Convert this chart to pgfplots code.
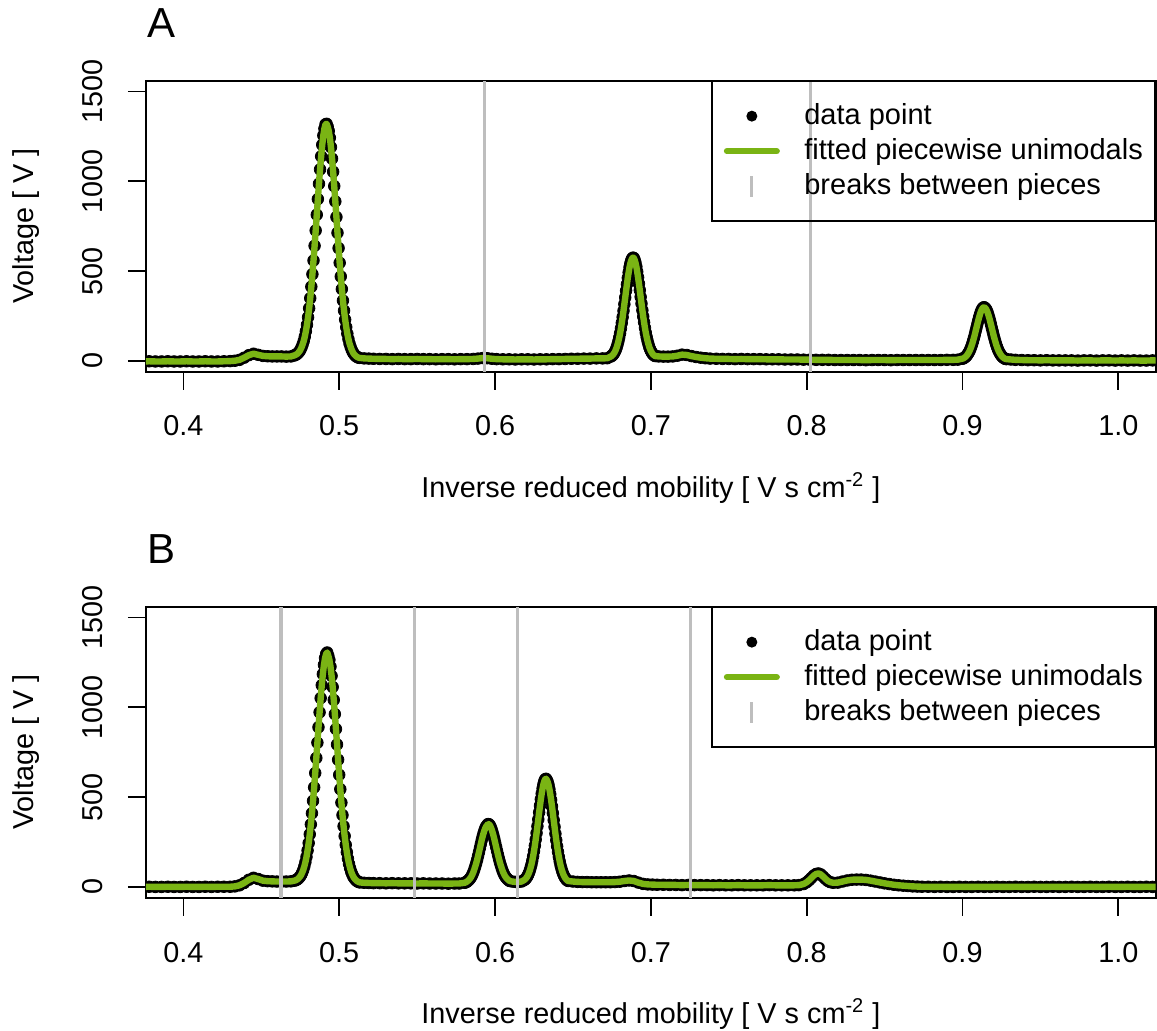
\documentclass[border=0pt]{standalone}
\usepackage{fontspec}
\setmainfont{Liberation Sans}
\usepackage{pgfplots}
\usepackage{pgfplotstable}
\pgfplotsset{compat=1.18}
\definecolor{fitgreen}{RGB}{122,180,20}
\definecolor{breakgray}{RGB}{190,190,190}

\pgfplotstableread{
x y
0.370 -3
0.374 -3
0.378 -2
0.382 -3
0.386 -3
0.390 -2
0.394 -3
0.398 -3
0.402 -2
0.406 -3
0.410 -3
0.414 -2
0.418 -3
0.422 -3
0.426 -2
0.430 -1
0.433 1
0.436 6
0.439 18
0.442 32
0.445 40
0.448 34
0.451 28
0.454 26
0.457 25
0.460 25
0.463 25
0.466 24
0.469 25
0.4709 30
0.4716 32
0.4723 35
0.4730 39
0.4737 45
0.4744 52
0.4751 62
0.4758 75
0.4765 91
0.4772 110
0.4779 135
0.4786 165
0.4793 201
0.4800 243
0.4807 293
0.4814 349
0.4821 413
0.4828 483
0.4835 559
0.4842 641
0.4849 726
0.4856 814
0.4863 901
0.4870 986
0.4877 1066
0.4884 1139
0.4891 1203
0.4898 1255
0.4905 1293
0.4912 1317
0.4919 1320
0.4926 1304
0.4933 1280
0.4940 1242
0.4947 1190
0.4954 1126
0.4961 1053
0.4968 973
0.4975 888
0.4982 801
0.4989 713
0.4996 628
0.5003 546
0.5010 470
0.5017 400
0.5024 336
0.5031 280
0.5038 230
0.5045 188
0.5052 152
0.5059 122
0.5066 97
0.5073 78
0.5080 62
0.5087 49
0.5094 39
0.5101 32
0.5108 26
0.5115 22
0.5122 19
0.5129 17
0.516 14
0.519 13
0.522 12
0.526 11
0.530 11
0.534 10
0.538 11
0.542 10
0.546 10
0.550 11
0.554 10
0.558 10
0.562 9
0.566 10
0.570 10
0.574 9
0.578 10
0.582 10
0.586 11
0.589 13
0.592 16
0.595 15
0.598 12
0.601 10
0.605 9
0.609 9
0.613 8
0.617 9
0.621 9
0.625 8
0.629 9
0.633 9
0.637 10
0.641 10
0.645 11
0.649 12
0.653 12
0.657 13
0.661 13
0.665 14
0.669 14
0.672 15
0.6742 24
0.67475 27
0.6753 31
0.67585 36
0.6764 43
0.67695 52
0.6775 62
0.67805 75
0.6786 91
0.67915 109
0.6797 130
0.68025 154
0.6808 181
0.68135 212
0.6819 244
0.68245 279
0.683 316
0.68355 353
0.6841 391
0.68465 427
0.6852 462
0.68575 493
0.6863 521
0.68685 543
0.6874 559
0.68795 570
0.6885 575
0.68905 573
0.6896 562
0.69015 546
0.6907 524
0.69125 496
0.6918 465
0.69235 430
0.6929 394
0.69345 356
0.694 319
0.69455 282
0.6951 247
0.69565 215
0.6962 184
0.69675 157
0.6973 133
0.69785 112
0.6984 94
0.69895 78
0.6995 65
0.70005 55
0.7006 46
0.70115 39
0.7017 34
0.70225 30
0.7028 27
0.705 25
0.708 24
0.711 24
0.714 25
0.717 29
0.720 35
0.723 33
0.726 27
0.729 22
0.732 18
0.735 15
0.738 13
0.742 12
0.746 11
0.750 11
0.754 10
0.758 11
0.762 10
0.766 10
0.770 10
0.774 9
0.778 9
0.782 9
0.786 8
0.790 8
0.794 8
0.798 7
0.802 7
0.806 6
0.810 6
0.814 6
0.818 5
0.822 5
0.826 5
0.830 5
0.834 5
0.838 4
0.842 5
0.846 5
0.850 5
0.854 4
0.858 5
0.862 5
0.866 5
0.870 5
0.874 5
0.878 5
0.882 5
0.886 5
0.890 6
0.894 6
0.897 7
0.8996 12
0.90015 13
0.9007 15
0.90125 18
0.9018 22
0.90235 26
0.9029 32
0.90345 39
0.904 47
0.90455 56
0.9051 67
0.90565 80
0.9062 94
0.90675 110
0.9073 127
0.90785 145
0.9084 165
0.90895 184
0.9095 204
0.91005 223
0.9106 241
0.91115 257
0.9117 272
0.91225 283
0.9128 292
0.91335 297
0.9139 299
0.91445 295
0.915 290
0.91555 281
0.9161 270
0.91665 255
0.9172 239
0.91775 221
0.9183 202
0.91885 182
0.9194 163
0.91995 143
0.9205 125
0.92105 108
0.9216 92
0.92215 78
0.9227 65
0.92325 54
0.9238 45
0.92435 37
0.9249 30
0.92545 24
0.926 20
0.92655 16
0.9271 13
0.92765 11
0.9282 10
0.931 8
0.934 6
0.938 5
0.942 4
0.946 4
0.950 3
0.954 4
0.958 3
0.962 3
0.966 3
0.970 3
0.974 2
0.978 3
0.982 3
0.986 2
0.990 3
0.994 3
0.998 2
1.002 3
1.006 2
1.010 3
1.014 2
1.018 2
1.022 3
1.026 2
1.030 2
}\dataA

\pgfplotstableread{
x y
0.370 0
0.374 0
0.378 1
0.382 0
0.386 0
0.390 1
0.394 0
0.398 0
0.402 1
0.406 0
0.410 0
0.414 1
0.418 0
0.422 1
0.426 1
0.430 1
0.433 3
0.436 9
0.439 22
0.442 40
0.445 51
0.448 44
0.451 35
0.454 32
0.457 31
0.460 30
0.463 30
0.466 30
0.469 31
0.4713 35
0.4720 37
0.4727 40
0.4734 44
0.4741 50
0.4748 57
0.4755 66
0.4762 79
0.4769 94
0.4776 114
0.4783 138
0.4790 167
0.4797 203
0.4804 244
0.4811 293
0.4818 348
0.4825 410
0.4832 479
0.4839 554
0.4846 634
0.4853 718
0.4860 803
0.4867 889
0.4874 972
0.4881 1051
0.4888 1123
0.4895 1185
0.4902 1236
0.4909 1274
0.4916 1297
0.4923 1305
0.4930 1287
0.4937 1264
0.4944 1226
0.4951 1175
0.4958 1113
0.4965 1041
0.4972 962
0.4979 879
0.4986 793
0.4993 708
0.5000 624
0.5007 544
0.5014 469
0.5021 400
0.5028 338
0.5035 283
0.5042 234
0.5049 193
0.5056 157
0.5063 128
0.5070 104
0.5077 84
0.5084 69
0.5091 56
0.5098 47
0.5105 40
0.5112 34
0.5119 30
0.5126 27
0.5133 25
0.516 23
0.519 22
0.522 21
0.526 21
0.530 20
0.534 21
0.538 20
0.542 20
0.546 20
0.550 19
0.554 20
0.558 19
0.562 19
0.566 19
0.570 18
0.574 19
0.577 19
0.58042 23
0.581 25
0.58158 27
0.58216 31
0.58274 35
0.58332 40
0.5839 46
0.58448 53
0.58506 62
0.58564 73
0.58622 85
0.5868 100
0.58738 116
0.58796 133
0.58854 152
0.58912 173
0.5897 194
0.59028 216
0.59086 238
0.59144 260
0.59202 280
0.5926 298
0.59318 314
0.59376 327
0.59434 337
0.59492 343
0.5955 350
0.59608 349
0.59666 343
0.59724 333
0.59782 320
0.5984 304
0.59898 286
0.59956 266
0.60014 244
0.60072 222
0.6013 200
0.60188 179
0.60246 158
0.60304 139
0.60362 122
0.6042 106
0.60478 91
0.60536 79
0.60594 68
0.60652 59
0.6071 52
0.60768 46
0.60826 41
0.60884 37
0.60942 33
0.611 30
0.613 28
0.615 28
0.617 30
0.6184 37
0.61895 40
0.6195 44
0.62005 50
0.6206 57
0.62115 66
0.6217 77
0.62225 90
0.6228 106
0.62335 124
0.6239 146
0.62445 171
0.625 199
0.62555 230
0.6261 264
0.62665 300
0.6272 338
0.62775 376
0.6283 415
0.62885 452
0.6294 488
0.62995 520
0.6305 548
0.63105 571
0.6316 588
0.63215 599
0.6327 602
0.63325 595
0.6338 584
0.63435 567
0.6349 544
0.63545 516
0.636 484
0.63655 448
0.6371 411
0.63765 372
0.6382 334
0.63875 296
0.6393 260
0.63985 226
0.6404 195
0.64095 167
0.6415 142
0.64205 120
0.6426 102
0.64315 86
0.6437 73
0.64425 62
0.6448 53
0.64535 46
0.6459 40
0.64645 36
0.647 33
0.650 30
0.653 28
0.656 27
0.659 27
0.662 26
0.665 26
0.668 26
0.671 26
0.674 26
0.677 27
0.680 29
0.683 33
0.686 36
0.689 33
0.692 24
0.695 17
0.698 14
0.701 13
0.704 12
0.708 12
0.712 11
0.716 11
0.720 10
0.724 11
0.728 10
0.732 10
0.736 10
0.740 9
0.744 10
0.748 9
0.752 9
0.756 10
0.760 9
0.764 9
0.768 9
0.772 9
0.776 10
0.780 9
0.784 9
0.788 9
0.792 9
0.795 10
0.798 16
0.800 26
0.8015 37
0.803 50
0.8045 63
0.806 72
0.8075 75
0.809 70
0.8105 58
0.812 45
0.8135 34
0.815 27
0.817 23
0.820 24
0.823 30
0.826 36
0.829 40
0.832 41
0.835 41
0.838 39
0.841 35
0.844 30
0.847 25
0.850 20
0.853 16
0.856 12
0.859 9
0.862 7
0.865 5
0.868 3
0.871 2
0.874 1
0.878 1
0.882 0
0.886 1
0.890 0
0.894 0
0.898 1
0.902 0
0.906 0
0.910 1
0.914 0
0.918 0
0.922 1
0.926 0
0.930 0
0.934 1
0.938 0
0.942 0
0.946 1
0.950 0
0.954 0
0.958 1
0.962 0
0.966 0
0.970 1
0.974 0
0.978 0
0.982 1
0.986 0
0.990 0
0.994 1
0.998 0
1.002 0
1.006 1
1.010 0
1.014 0
1.018 1
1.022 0
1.026 0
1.030 1
}\dataB

\pgfplotsset{
  irm/.style={
    scale only axis,
    width=504.85pt, height=145.5pt,
    xmin=0.376, xmax=1.024, ymin=-60, ymax=1560,
    clip marker paths=true,
    axis line style={line width=0.85pt},
    tick pos=left, tick align=outside,
    major tick length=9pt,
    tick style={line width=0.85pt, black},
    xtick={0.4,0.5,0.6,0.7,0.8,0.9,1.0},
    xticklabels={0.4,0.5,0.6,0.7,0.8,0.9,1.0},
    ytick={0,500,1000,1500},
    yticklabels={0,500,1000,1500},
    /pgf/number format/assume math mode=true,
    ticklabel style={font=\fontsize{14.4}{17}\selectfont, inner sep=0pt},
    xticklabel style={anchor=base},
    yticklabel style={rotate=90, anchor=base},
    xticklabel shift=23.15pt,
    yticklabel shift=12.5pt,
    xlabel={Inverse reduced mobility [ V s cm\textsuperscript{-2} ]},
    ylabel={Voltage [ V ]},
    every axis x label/.style={at={(axis description cs:0.5,-0.4306)}, anchor=base,
      inner sep=0pt, font=\fontsize{14.4}{17}\selectfont},
    every axis y label/.style={at={(axis description cs:-0.1119,0.5)}, rotate=90, anchor=base,
      inner sep=0pt, font=\fontsize{14.4}{17}\selectfont},
    legend style={
      at={(1,1)}, anchor=north east,
      draw=black, line width=0.85pt, fill=none,
      inner xsep=6pt, inner ysep=10.3pt,
      row sep=3.5pt, column sep=12.25pt,
      nodes={inner sep=0pt, text depth=3pt},
      font=\fontsize{14.5}{17}\selectfont,
    },
    legend cell align=left,
  },
  dots/.style={only marks, mark=*, mark size=2.9pt, black,
    mark options={solid, fill=black, draw=black},
    legend image code/.code={
      \path[draw=none, fill=none] (0pt,0pt) -- (28pt,0pt);
      \fill[black, draw=none] (14pt,0pt) circle (2.75pt);}},
  fit/.style={fitgreen, line width=3.2pt, line join=round, no marks,
    legend image code/.code={
      \draw[fitgreen, line width=3pt, line cap=round] (1.5pt,0pt) -- (26.5pt,0pt);}},
  brk/.style={breakgray, line width=1.7pt, no marks,
    legend image code/.code={
      \path[draw=none, fill=none] (0pt,0pt) -- (28pt,0pt);
      \draw[breakgray, line width=1.5pt] (14pt,-5.25pt) -- (14pt,5.25pt);}},
}

\begin{document}
\begin{tikzpicture}
\node[anchor=base west, inner sep=0pt, font=\fontsize{21}{25}\selectfont] at (73.5pt,-19pt) {A};
\begin{axis}[irm, at={(73pt,-40.35pt)}, anchor=north west]
\addplot[dots] table[x=x,y=y] {\dataA};
\addlegendentry{\rule[-3pt]{0pt}{14pt}data point}
\addplot[fit] table[x=x,y=y] {\dataA};
\addlegendentry{\rule[-3pt]{0pt}{14pt}fitted piecewise unimodals}
\addplot[brk] coordinates {(0.5934,-60) (0.5934,1560)};
\addlegendentry{\rule[-3pt]{0pt}{14pt}breaks between pieces}
\addplot[brk, forget plot] coordinates {(0.8025,-60) (0.8025,1560)};
\end{axis}

\node[anchor=base west, inner sep=0pt, font=\fontsize{21}{25}\selectfont] at (73.5pt,-282pt) {B};
\begin{axis}[irm, at={(73pt,-303.35pt)}, anchor=north west]
\addplot[dots] table[x=x,y=y] {\dataB};
\addlegendentry{\rule[-3pt]{0pt}{14pt}data point}
\addplot[fit] table[x=x,y=y] {\dataB};
\addlegendentry{\rule[-3pt]{0pt}{14pt}fitted piecewise unimodals}
\addplot[brk] coordinates {(0.4626,-60) (0.4626,1560)};
\addlegendentry{\rule[-3pt]{0pt}{14pt}breaks between pieces}
\addplot[brk, forget plot] coordinates {(0.5483,-60) (0.5483,1560)};
\addplot[brk, forget plot] coordinates {(0.6143,-60) (0.6143,1560)};
\addplot[brk, forget plot] coordinates {(0.7254,-60) (0.7254,1560)};
\end{axis}
\pgfresetboundingbox
\useasboundingbox (0,0) rectangle (578.5pt,-515.5pt);
\end{tikzpicture}
\end{document}
